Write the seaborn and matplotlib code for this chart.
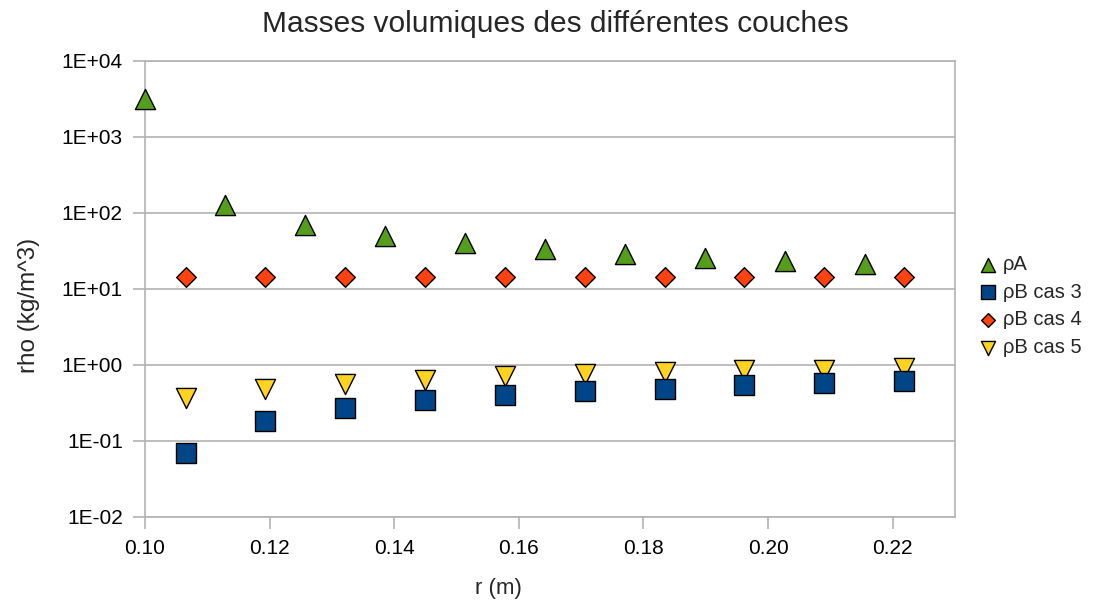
import numpy as np
import pandas as pd
import seaborn as sns
import matplotlib.pyplot as plt
from matplotlib.ticker import FixedLocator, FuncFormatter, NullLocator

# values
r_a = [0.1000, 0.1128, 0.1257, 0.1385, 0.1514, 0.1642, 0.1770, 0.1899, 0.2027, 0.2156]
rho_a = [3190, 129, 70, 50, 40.6, 33.6, 29.0, 25.5, 23.2, 21.4]

r_b = [0.1065, 0.1193, 0.1321, 0.1450, 0.1578, 0.1706, 0.1834, 0.1962, 0.2090, 0.2218]
rho_b3 = [0.0705, 0.182, 0.270, 0.343, 0.402, 0.451, 0.490, 0.546, 0.578, 0.611]
rho_b4 = [14.5, 14.5, 14.5, 14.5, 14.5, 14.5, 14.5, 14.5, 14.5, 14.5]
rho_b5 = [0.367, 0.482, 0.566, 0.639, 0.720, 0.760, 0.800, 0.850, 0.860, 0.920]

labels = ['ρA', 'ρB cas 3', 'ρB cas 4', 'ρB cas 5']
colors = ['#579d1c', '#004586', '#ff420e', '#ffd320']

sns.set_style('white')
plt.rcParams['font.family'] = ['Liberation Sans', 'DejaVu Sans']

fig = plt.figure(figsize=(10.95, 6.03), dpi=100)
ax = fig.add_axes([145 / 1095, 86 / 603, 810 / 1095, 456 / 603])

ax.set_yscale('log')
sns.scatterplot(x=r_a, y=rho_a, marker='^', s=210, color=colors[0], edgecolor='black',
                linewidth=1.0, label=labels[0], ax=ax, zorder=3, clip_on=False)
sns.scatterplot(x=r_b, y=rho_b5, marker='v', s=210, color=colors[3], edgecolor='black',
                linewidth=1.0, label=labels[3], ax=ax, zorder=3, clip_on=False)
sns.scatterplot(x=r_b, y=rho_b3, marker='s', s=200, color=colors[1], edgecolor='black',
                linewidth=1.0, label=labels[1], ax=ax, zorder=4, clip_on=False)
sns.scatterplot(x=r_b, y=rho_b4, marker='D', s=100, color=colors[2], edgecolor='black',
                linewidth=1.0, label=labels[2], ax=ax, zorder=4, clip_on=False)

ax.set_xlim(0.10, 0.23)
ax.set_ylim(1e-2, 1e4)
ax.xaxis.set_major_locator(FixedLocator([0.10, 0.12, 0.14, 0.16, 0.18, 0.20, 0.22]))
ax.xaxis.set_major_formatter(FuncFormatter(lambda v, p: f'{v:.2f}'))
ax.yaxis.set_major_locator(FixedLocator([1e-2, 1e-1, 1e0, 1e1, 1e2, 1e3, 1e4]))
ax.yaxis.set_major_formatter(FuncFormatter(lambda v, p: f'1E{int(round(np.log10(v))):+03d}'))
ax.yaxis.set_minor_locator(NullLocator())

ax.grid(axis='y', color='#b3b3b3', linewidth=1.2)
ax.grid(axis='x', visible=False)
for sp in ax.spines.values():
    sp.set_color('#b3b3b3')
    sp.set_linewidth(1.2)
ax.tick_params(axis='both', which='major', direction='out', length=8.6, width=1.2,
               color='#b3b3b3', labelsize=15, pad=7.4, labelcolor='black')
ax.tick_params(left=True, bottom=True)

ax.set_xlabel('r (m)', fontsize=16)
ax.set_ylabel('rho (kg/m^3)', fontsize=17.5)
ax.xaxis.set_label_coords(0.436, -0.134)
ax.yaxis.set_label_coords(-0.13, 0.465)
ax.set_title('Masses volumiques des différentes couches', fontsize=21.5, pad=21, x=0.507)

handles, labs = ax.get_legend_handles_labels()
order = [labs.index(l) for l in labels]
ax.legend([handles[i] for i in order], [labs[i] for i in order],
          loc='center left', bbox_to_anchor=(0.888, 0.4925), bbox_transform=fig.transFigure,
          frameon=False, fontsize=14.5, handlelength=0.8, handletextpad=0.3,
          labelspacing=0.43, markerscale=0.7, borderaxespad=0)

fig.savefig('out.png', dpi=100)
